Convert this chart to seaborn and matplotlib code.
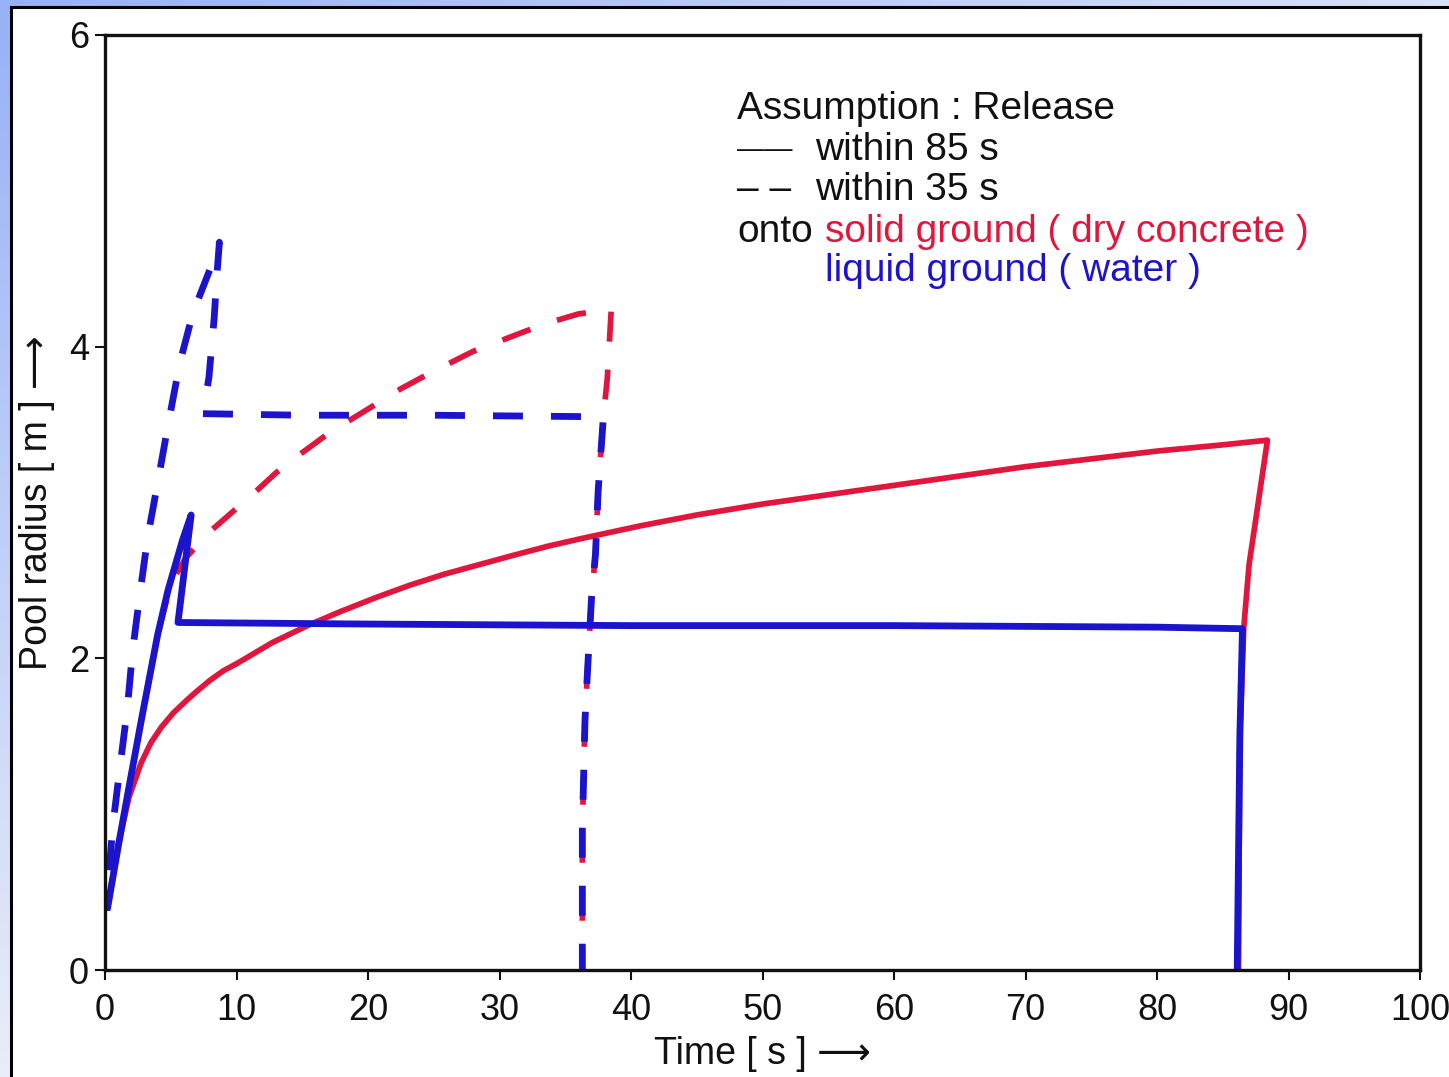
import numpy as np
import pandas as pd
import matplotlib
matplotlib.use("Agg")
import matplotlib.pyplot as plt
from matplotlib.patches import Rectangle
import seaborn as sns

# ---------------- data ----------------
# release within 85 s onto solid ground (dry concrete)
red_solid_t = [0.2, 1.0, 1.83, 2.75, 3.5, 4.3, 5.2, 6.2, 7.0, 8.0, 9.0, 10.1, 12.7, 15.4, 17.9, 20.6, 23.2,
               25.8, 28.4, 31.0, 33.7, 36.3, 40.7, 45, 50, 55, 60, 65, 70, 75, 80, 85, 88.4,
               87.7, 87.0, 86.6, 86.3, 86.2]
red_solid_r = [0.4, 0.8, 1.11, 1.33, 1.46, 1.56, 1.65, 1.73, 1.79, 1.86, 1.92, 1.97, 2.10, 2.21, 2.30, 2.39, 2.47,
               2.54, 2.60, 2.66, 2.72, 2.77, 2.85, 2.92, 2.99, 3.05, 3.11, 3.17, 3.23, 3.28, 3.33, 3.37, 3.40,
               3.00, 2.60, 2.20, 1.50, 0.0]

# release within 35 s onto solid ground (dry concrete)
red_dash_t = [0.2, 1.0, 1.75, 2.8, 4.0, 5.0, 6.1, 7.8, 9.7, 11.2, 13.0, 15.0, 17.1, 20.2, 22.5, 24.7, 28.0,
              32.0, 34.0, 36.0, 38.5, 38.2, 37.9, 37.5, 37.3, 37.0, 36.7, 36.5, 36.3, 36.3]
red_dash_r = [0.4, 0.79, 1.14, 1.62, 2.15, 2.48, 2.64, 2.80, 2.94, 3.05, 3.19, 3.32, 3.45, 3.61, 3.73, 3.83, 3.97,
              4.10, 4.16, 4.21, 4.24, 3.80, 3.55, 3.07, 2.67, 2.39, 1.93, 1.60, 0.90, 0.0]

# release within 85 s onto liquid ground (water)
blue_solid_t = [0.2, 1.0, 1.75, 2.8, 4.0, 4.8, 5.9, 6.55, 5.55, 20, 40, 60, 80, 86.5, 86.3, 86.1]
blue_solid_r = [0.4, 0.79, 1.14, 1.62, 2.15, 2.44, 2.76, 2.92, 2.23, 2.22, 2.21, 2.21, 2.20, 2.19, 1.50, 0.0]

# release within 35 s onto liquid ground (water)
blue_dash_t = [0.15, 0.3, 0.6, 1.15, 1.7, 2.1, 2.65, 3.25, 3.95, 4.8, 5.7, 6.7, 8.0, 8.7, 8.5, 8.3, 7.9,
               7.45, 15, 25, 37.9, 37.5, 37.3, 37.0, 36.7, 36.5, 36.3, 36.3]
blue_dash_r = [0.38, 0.62, 0.93, 1.31, 1.68, 2.05, 2.41, 2.78, 3.10, 3.50, 3.90, 4.22, 4.50, 4.67, 4.45, 4.18, 3.80,
               3.57, 3.56, 3.56, 3.55, 3.07, 2.67, 2.39, 1.93, 1.60, 0.90, 0.0]

x_ticks = [0, 10, 20, 30, 40, 50, 60, 70, 80, 90, 100]
y_ticks = [0, 2, 4, 6]

# ---------------- style ----------------
RED = "#e2163c"
BLUE = "#1c14cc"
INK = "#111111"

sns.set_theme(style="white")
plt.rcParams["font.family"] = ["Liberation Sans", "DejaVu Sans"]

W, H = 1449, 1077
DPI = 100
fig = plt.figure(figsize=(W / DPI, H / DPI), dpi=DPI)

# slide background: blue gradient + white panel with black frame
bg = fig.add_axes([0, 0, 1, 1], zorder=-10)
yy, xx = np.mgrid[0:1:120j, 0:1:160j]
k = np.clip(0.75 * xx + 0.95 * yy, 0, 1)[..., None]
c0 = np.array([150, 178, 245]) / 255
c1 = np.array([238, 240, 250]) / 255
bg.imshow(c0 * (1 - k) + c1 * k, extent=[0, W, H, 0], aspect="auto", interpolation="bilinear")
bg.add_patch(Rectangle((11, 7), W, H, facecolor="white", edgecolor="black", lw=2.2))
bg.set_xlim(0, W)
bg.set_ylim(H, 0)
bg.axis("off")

ax = fig.add_axes([105 / W, 1 - 970 / H, (1420 - 105) / W, (970 - 35) / H])
ax.set_facecolor("white")
ax.set_xlim(0, 100)
ax.set_ylim(0, 6)

LW_RED = 4.1
LW_BLUE = 4.9
DASH_PX, GAP_PX = 30.0, 28.0
PERIOD_PX = DASH_PX + GAP_PX


def px_per_lw(lw):
    return lw * DPI / 72.0


def length_to(t, r, idx):
    pts = ax.transData.transform(np.column_stack([t, r]))
    seg = np.hypot(*np.diff(pts, axis=0).T)
    return seg[:idx].sum()


def find_vertex(t, r, tv, rv):
    for i, (a, b) in enumerate(zip(t, r)):
        if a == tv and b == rv:
            return i
    return 0


# dash phase: a blue dash starts at the corner of the plateau,
# and the red dashes sit just under the blue ones on the common drop
L_corner = length_to(blue_dash_t, blue_dash_r, find_vertex(blue_dash_t, blue_dash_r, 7.45, 3.57))
off_blue_px = (-L_corner) % PERIOD_PX
L_blue = length_to(blue_dash_t, blue_dash_r, find_vertex(blue_dash_t, blue_dash_r, 37.9, 3.55))
L_red = length_to(red_dash_t, red_dash_r, find_vertex(red_dash_t, red_dash_r, 37.9, 3.55))
off_red_px = (L_blue + off_blue_px - L_red - 5.0) % PERIOD_PX


def dash_style(lw, offset_px=0.0):
    u = px_per_lw(lw)
    return (offset_px / u, (DASH_PX / u, GAP_PX / u))


def draw(t, r, color, lw, ls):
    df = pd.DataFrame({"t": t, "r": r})
    sns.lineplot(data=df, x="t", y="r", sort=False, estimator=None, color=color,
                 lw=lw, linestyle=ls, ax=ax)


draw(red_solid_t, red_solid_r, RED, LW_RED, "-")
draw(red_dash_t, red_dash_r, RED, LW_RED, dash_style(LW_RED, off_red_px))
draw(blue_solid_t, blue_solid_r, BLUE, LW_BLUE, "-")
draw(blue_dash_t, blue_dash_r, BLUE, LW_BLUE, dash_style(LW_BLUE, off_blue_px))
for ln in ax.lines:
    ln.set_dash_capstyle("butt")

ax.set_xlim(0, 100)
ax.set_ylim(0, 6)
ax.set_xticks(x_ticks)
ax.set_yticks(y_ticks)
ax.tick_params(axis="both", which="major", direction="out", length=7.5, width=1.5,
               colors=INK, labelsize=26, bottom=True, left=True, top=False, right=False)
ax.tick_params(axis="x", pad=9)
ax.tick_params(axis="y", pad=4)
for s in ax.spines.values():
    s.set_visible(True)
    s.set_color(INK)
    s.set_linewidth(2.4)

ax.set_xlabel("Time [ s ] \u27F6", fontsize=27, color=INK, labelpad=6)
ax.set_ylabel("Pool radius [ m ] \u27F6", fontsize=27, color=INK, labelpad=10)

# annotation block
FS = 28
x0, x1, x2 = 48.06, 54.0, 54.75
ax.text(x0, 5.46, "Assumption : Release", fontsize=FS, color=INK, va="baseline", ha="left")
ax.text(x0, 5.215, "\u2014\u2014", fontsize=20, color=INK, va="baseline", ha="left")
ax.text(x1, 5.20, "within 85 s", fontsize=FS, color=INK, va="baseline", ha="left")
ax.text(x0, 4.94, "\u2013 \u2013", fontsize=FS, color=INK, va="baseline", ha="left")
ax.text(x1, 4.94, "within 35 s", fontsize=FS, color=INK, va="baseline", ha="left")
ax.text(x0, 4.67, "onto", fontsize=FS, color=INK, va="baseline", ha="left")
ax.text(x2, 4.67, "solid ground ( dry concrete )", fontsize=FS, color=RED, va="baseline", ha="left")
ax.text(x2, 4.42, "liquid ground ( water )", fontsize=FS, color=BLUE, va="baseline", ha="left")

fig.savefig("out.png", dpi=DPI)
